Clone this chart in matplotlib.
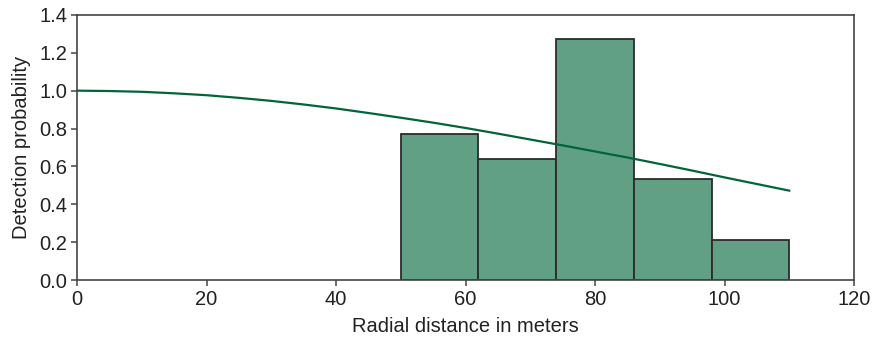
import numpy as np
import matplotlib
matplotlib.use("Agg")
import matplotlib.pyplot as plt

# Histograma de distancias (bins de 12 m)
bin_edges = [50, 62, 74, 86, 98, 110]
bar_heights = [0.77, 0.637, 1.275, 0.533, 0.21]

# Curva de deteccion
curve_x = [0, 5, 10, 15, 20, 25, 30, 35, 40, 45, 50, 55,
           60, 65, 70, 75, 80, 85, 90, 95, 100, 105, 110]
curve_y = [1.0, 0.998, 0.994, 0.986, 0.976, 0.962, 0.946, 0.927, 0.906, 0.882, 0.857, 0.831,
           0.803, 0.773, 0.742, 0.711, 0.679, 0.647, 0.613, 0.578, 0.542, 0.507, 0.472]

x_ticks = [0, 20, 40, 60, 80, 100, 120]
y_ticks = [0.0, 0.2, 0.4, 0.6, 0.8, 1.0, 1.2, 1.4]

plt.rcParams['font.family'] = ['Liberation Sans', 'DejaVu Sans']

fig = plt.figure(figsize=(8.75, 3.39), dpi=100)
ax = fig.add_axes([0.088, 0.174, 0.888, 0.782])

lefts = bin_edges[:-1]
widths = np.diff(bin_edges)
ax.bar(lefts, bar_heights, width=widths, align='edge', color='#62a086',
       edgecolor='#2b2b2b', linewidth=1.3, zorder=2)
ax.plot(curve_x, curve_y, color='#00663a', linewidth=1.6, zorder=3)

ax.set_xlim(0, 120)
ax.set_ylim(0, 1.4)
ax.set_xticks(x_ticks)
ax.set_yticks(y_ticks)
ax.set_yticklabels([f"{v:.1f}" for v in y_ticks])
ax.set_xlabel('Radial distance in meters', fontsize=14.5, color='#222222', labelpad=6)
ax.set_ylabel('Detection probability', fontsize=14.5, color='#222222', labelpad=6)

for s in ax.spines.values():
    s.set_color('#444444')
    s.set_linewidth(1.2)
ax.tick_params(direction='out', length=4, width=1.1, color='#444444',
               labelsize=14.5, labelcolor='#222222', pad=3)

fig.savefig('out.png', dpi=100)
